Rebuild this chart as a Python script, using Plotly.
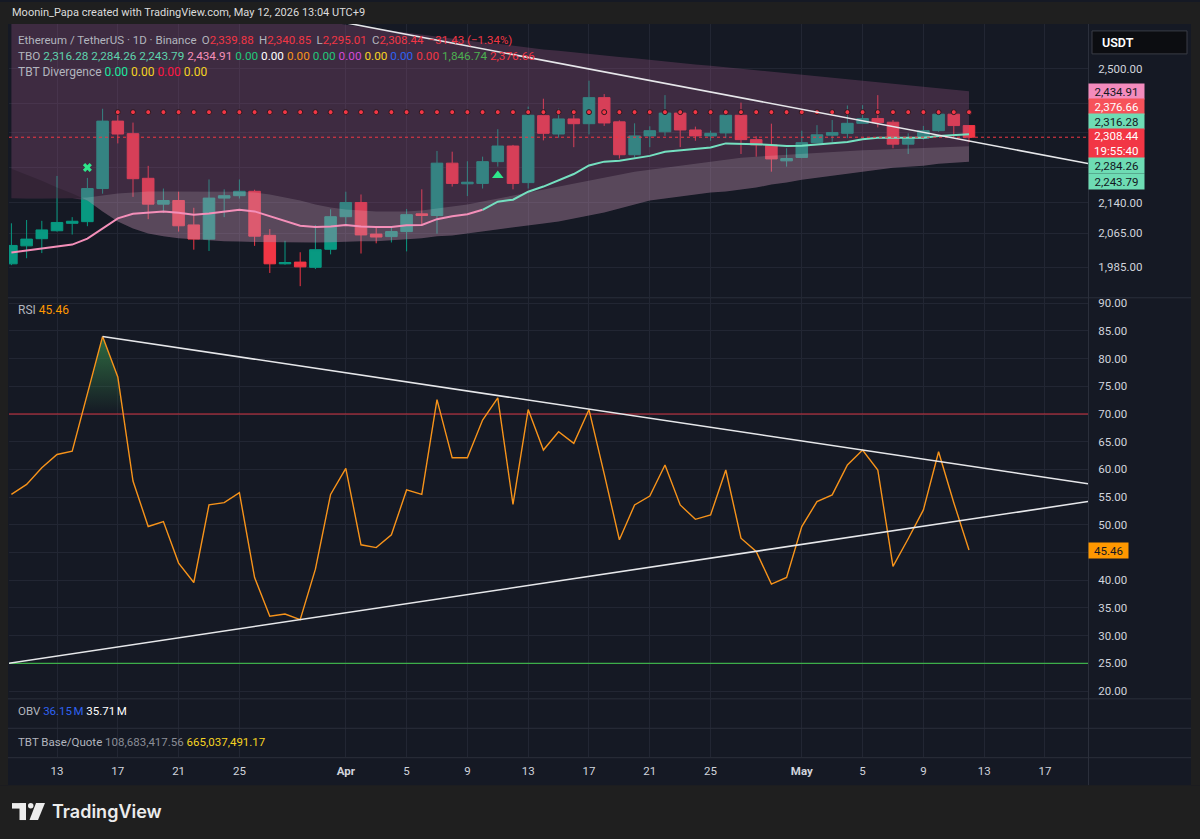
import numpy as np
import pandas as pd
import plotly.graph_objects as go

W, H = 1200, 839
def PX(v): return v / W
def PY(v): return 1 - v / H

# ---------------- data ----------------
dates = pd.date_range("2026-03-10", periods=64, freq="D")

open_ = [1993, 2035, 2052, 2071, 2089, 2093, 2175, 2352, 2318, 2201,
         2136, 2145, 2085, 2051, 2151, 2157, 2168, 2060, 1993, 1997,
         1985, 2027, 2105, 2140, 2063, 2057, 2069, 2112, 2108, 2240,
         2187, 2188, 2244, 2285, 2190, 2367, 2317, 2358, 2345, 2417,
         2350, 2262, 2312, 2323, 2374, 2328, 2312, 2320, 2368, 2302,
         2288, 2246, 2255, 2294, 2314, 2319, 2346, 2359, 2349, 2290,
         2306, 2326, 2371, 2339.88]
high = [2089, 2097, 2095, 2207, 2104, 2202, 2386, 2373, 2348, 2233,
        2175, 2167, 2127, 2198, 2173, 2198, 2172, 2075, 2047, 2020,
        2085, 2123, 2167, 2160, 2080, 2082, 2124, 2173, 2272, 2270,
        2245, 2257, 2330, 2288, 2392, 2414, 2386, 2383, 2465, 2427,
        2354, 2346, 2338, 2424, 2381, 2337, 2326, 2384, 2403, 2311,
        2345, 2279, 2326, 2341, 2355, 2395, 2396, 2424, 2355, 2319,
        2339, 2384, 2384, 2340.85]
low = [1990, 2006, 2018, 2069, 2062, 2082, 2162, 2292, 2154, 2099,
       2114, 2069, 2026, 2023, 2104, 2150, 2035, 1972, 1991, 1942,
       1981, 2015, 2084, 2017, 2041, 2043, 2022, 2085, 2064, 2180,
       2156, 2175, 2231, 2173, 2175, 2300, 2307, 2282, 2316, 2339,
       2252, 2255, 2282, 2312, 2282, 2299, 2299, 2306, 2264, 2257,
       2218, 2231, 2253, 2293, 2296, 2306, 2346, 2335, 2279, 2264,
       2302, 2323, 2308, 2295.01]
close = [2036, 2051, 2073, 2091, 2094, 2175, 2352, 2317, 2200, 2136,
         2145, 2083, 2051, 2151, 2157, 2168, 2058, 1993, 1996, 1986,
         2026, 2105, 2140, 2061, 2056, 2069, 2110, 2108, 2240, 2188,
         2191, 2244, 2285, 2188, 2368, 2319, 2358, 2345, 2417, 2347,
         2262, 2312, 2326, 2374, 2328, 2312, 2319, 2368, 2302, 2288,
         2251, 2252, 2294, 2315, 2321, 2346, 2359, 2348, 2290, 2306,
         2326, 2371, 2339.87, 2308.44]

tbo_fast = [2019.5, 2024, 2028, 2033, 2038, 2052, 2077, 2101, 2112, 2115,
            2118, 2115, 2110, 2113, 2118, 2122, 2118, 2106, 2093, 2083,
            2080, 2081, 2085, 2081, 2080, 2080, 2084, 2085, 2099, 2106,
            2111, 2122, 2142, 2147, 2167, 2180, 2195, 2212, 2234, 2244,
            2246, 2252, 2259, 2270, 2274, 2277, 2281, 2292, 2292, 2290,
            2288, 2285, 2286, 2289, 2292, 2296, 2303, 2307, 2307, 2307,
            2307, 2312, 2314, 2316.28]
fast_switch_idx = 31  # pink before, teal after

tbo_band_hi = [2150.6, 2150.2, 2149.9, 2149.7, 2150.4, 2152.4, 2157.4, 2162.4, 2164.9, 2167.4,
               2167.6, 2167.8, 2167.5, 2167.3, 2167.4, 2167.1, 2164.9, 2159.9, 2152.4, 2145.0,
               2135.1, 2127.7, 2122.8, 2120.3, 2117.9, 2117.6, 2117.9, 2120.3, 2125.2, 2130.1,
               2135.1, 2142.5, 2149.9, 2157.4, 2164.9, 2172.4, 2180.0, 2187.5, 2195.1, 2202.7,
               2210.3, 2218.0, 2223.2, 2228.3, 2233.4, 2238.6, 2243.8, 2249.2, 2254.4, 2257.0,
               2259.6, 2262.2, 2264.8, 2267.4, 2270.0, 2272.7, 2274.0, 2275.3, 2276.6, 2278.0,
               2279.3, 2280.6, 2282.4, 2284.26]
tbo_band_lo = [2225.7, 2210.3, 2195.0, 2177.4, 2162.4, 2145.0, 2117.9, 2093.5, 2076.7, 2064.7,
               2057.6, 2052.8, 2050.5, 2048.1, 2045.7, 2045.2, 2044.1, 2043.6, 2043.2, 2043.0,
               2043.1, 2043.5, 2044.2, 2045.7, 2045.9, 2048.1, 2050.5, 2052.8, 2057.6, 2059.9,
               2064.7, 2069.5, 2074.3, 2079.1, 2083.9, 2088.7, 2093.5, 2100.8, 2108.1, 2115.4,
               2125.2, 2135.1, 2145.0, 2149.9, 2154.9, 2159.9, 2164.9, 2167.4, 2172.4, 2177.4,
               2185.0, 2190.0, 2197.6, 2202.7, 2207.8, 2212.9, 2218.0, 2223.2, 2228.3, 2230.9,
               2233.4, 2238.6, 2241.2, 2243.79]
tbo_upper = [2780, 2775, 2770, 2764, 2758, 2752, 2746, 2739, 2732, 2725,
             2718, 2711, 2704, 2697, 2690, 2683, 2676, 2670, 2664, 2657,
             2650, 2639, 2630, 2624, 2618, 2612, 2606, 2599, 2593, 2587,
             2581, 2577, 2573, 2567, 2561, 2556, 2552, 2547, 2543, 2539,
             2534, 2530, 2525, 2521, 2517, 2512, 2508, 2503.5, 2499, 2494.8,
             2490.5, 2486.1, 2481.8, 2477.5, 2473.2, 2469, 2464.7, 2460.4, 2456.1, 2451.8,
             2447.6, 2443.4, 2439.1, 2434.91]
tbo_level = 2376.66
tbo_level_start = 7

signal_x_idx, signal_x_price = [5], [2229]
signal_up_idx, signal_up_price = [32], [2208]

price_trend_idx = [41.36, 64.38]
price_trend_price = [2471, 2288]

rsi = [55.5, 57.3, 60.3, 62.7, 63.3, 73.6, 84.0, 76.7, 57.9, 49.7,
       50.6, 43.1, 39.6, 53.6, 54.0, 55.8, 40.5, 33.5, 33.9, 32.9,
       42.0, 55.5, 60.2, 46.4, 45.9, 48.2, 56.3, 55.5, 72.6, 62.1,
       62.1, 68.9, 72.9, 53.7, 70.8, 63.5, 66.8, 64.7, 70.8, 59.2,
       47.3, 53.6, 55.2, 60.8, 53.6, 51.0, 51.8, 59.9, 47.6, 45.2,
       39.3, 40.5, 49.7, 54.2, 55.4, 60.8, 63.5, 59.9, 42.5, 47.5,
       52.7, 63.2, 54.0, 45.46]
rsi_upper_level, rsi_lower_level = 70, 25
rsi_trend_upper = [(6, 84.0), (56, 63.5)]
rsi_trend_lower = [(-0.22, 25.0), (19, 32.9)]
rsi_ticks = [20, 25, 30, 35, 40, 45, 50, 55, 60, 65, 70, 75, 80, 85, 90]
rsi_tick_hidden = [45]  # covered by the live value label

price_ticks = [1985, 2065, 2140, 2230, 2320, 2400, 2500]
price_tick_shown = [True, True, True, False, False, False, True]

tick_dates = pd.to_datetime(["2026-03-13", "2026-03-17", "2026-03-21", "2026-03-25", "2026-04-01",
                             "2026-04-05", "2026-04-09", "2026-04-13", "2026-04-17", "2026-04-21",
                             "2026-04-25", "2026-05-01", "2026-05-05", "2026-05-09", "2026-05-13",
                             "2026-05-17"])
tick_labels = ["13", "17", "21", "25", "<b>Apr</b>", "5", "9", "13", "17", "21", "25",
               "<b>May</b>", "5", "9", "13", "17"]

tbo_extra = [0.00, 0.00, 0.00, 0.00, 0.00, 0.00, 0.00, 0.00, 1846.74]
tbo_extra_colors = ["#22c77a", "#ffffff", "#f7931a", "#22c77a", "#d24ad8", "#f5d322", "#2f62f0", "#f23645", "#4caf50"]
div_vals = [0.00, 0.00, 0.00, 0.00]
div_colors = ["#1de9a0", "#f5d322", "#ff1744", "#f5d322"]
obv_vals = [36.15e6, 35.71e6]
tbt_vals = [108683417.56, 665037491.17]

# ---------------- styling ----------------
BG = "#151924"
OUT = "#1f1f1f"
GRID = "#222633"
SEP = "#2b2f3b"
TXT = "#d1d4dc"
MUTED = "#b2b5be"
UP = "#089981"
DN = "#f23645"
PINK = "#f48fb9"
TEAL = "#74e0c0"
ORANGE = "#ff9800"
FONT = "Roboto"
LEG_SZ = 12

idx = np.array((dates - dates[0]).days, dtype=float)
tick_pos = list((tick_dates - dates[0]).days)
x_range = [-0.158, 70.83]

# ---------------- helpers ----------------
def split_band(x, top, bot, logspace):
    x = np.asarray(x, float)
    if logspace:
        t = np.log(np.asarray(top, float)); b = np.log(np.asarray(bot, float))
    else:
        t = np.asarray(top, float); b = np.asarray(bot, float)
    d = t - b
    segs = []
    cx, ct, cb = [x[0]], [t[0]], [b[0]]
    sign = d[0] >= 0
    for i in range(1, len(x)):
        s = d[i] >= 0
        if s != sign:
            r = d[i - 1] / (d[i - 1] - d[i])
            xc = x[i - 1] + r * (x[i] - x[i - 1])
            tc = t[i - 1] + r * (t[i] - t[i - 1])
            cx.append(xc); ct.append(tc); cb.append(tc)
            segs.append((sign, cx, ct, cb))
            cx, ct, cb = [xc], [tc], [tc]
            sign = s
        cx.append(x[i]); ct.append(t[i]); cb.append(b[i])
    segs.append((sign, cx, ct, cb))
    out = []
    for sg, xs, ts, bs in segs:
        if logspace:
            ts = list(np.exp(ts)); bs = list(np.exp(bs))
        out.append((sg, list(xs), list(ts), list(bs)))
    return out

def polygon(xs, ts, bs):
    return xs + xs[::-1], ts + bs[::-1]

def extend_line(p0, p1, x0, x1, logspace):
    (a, va), (b, vb) = p0, p1
    if logspace:
        va, vb = np.log(va), np.log(vb)
    k = (vb - va) / (b - a)
    ys = [va + k * (x0 - a), va + k * (x1 - a)]
    if logspace:
        ys = list(np.exp(ys))
    return [x0, x1], ys

fig = go.Figure()

# ---- price pane: TBO cloud ----
env_low = list(np.minimum(tbo_band_hi, tbo_band_lo))
px_, py_ = polygon(list(idx), list(tbo_upper), env_low)
fig.add_trace(go.Scatter(x=px_, y=py_, fill="toself", fillcolor="rgba(156,84,132,0.31)",
                         line=dict(width=0), mode="lines", hoverinfo="skip", xaxis="x", yaxis="y"))
for sg, xs, ts, bs in split_band(idx, tbo_band_hi, tbo_band_lo, True):
    if len(xs) < 2:
        continue
    pxs, pys = polygon(xs, ts, bs)
    col = "rgba(255,255,255,0.14)" if sg else "rgba(0,0,0,0.16)"
    fig.add_trace(go.Scatter(x=pxs, y=pys, fill="toself", fillcolor=col, line=dict(width=0),
                             mode="lines", hoverinfo="skip", xaxis="x", yaxis="y"))

# red level dots
fig.add_trace(go.Scatter(x=idx[tbo_level_start:], y=[tbo_level] * len(idx[tbo_level_start:]),
                         mode="markers", marker=dict(size=5, color=DN, line=dict(width=1, color="#2a1a22")),
                         hoverinfo="skip", xaxis="x", yaxis="y"))

# fast line
fig.add_trace(go.Scatter(x=idx[:fast_switch_idx + 1], y=tbo_fast[:fast_switch_idx + 1], mode="lines",
                         line=dict(color=PINK, width=2), hoverinfo="skip", xaxis="x", yaxis="y"))
fig.add_trace(go.Scatter(x=idx[fast_switch_idx:], y=tbo_fast[fast_switch_idx:], mode="lines",
                         line=dict(color=TEAL, width=2), hoverinfo="skip", xaxis="x", yaxis="y"))

# candles
fig.add_trace(go.Candlestick(x=idx, open=open_, high=high, low=low, close=close,
                             increasing=dict(line=dict(color=UP, width=1), fillcolor=UP),
                             decreasing=dict(line=dict(color=DN, width=1), fillcolor=DN),
                             whiskerwidth=0, hoverinfo="skip", xaxis="x", yaxis="y"))

# current price dotted line
fig.add_trace(go.Scatter(x=x_range, y=[close[-1], close[-1]], mode="lines",
                         line=dict(color=DN, width=1, dash="dot"), hoverinfo="skip", xaxis="x", yaxis="y"))

# signals
fig.add_trace(go.Scatter(x=signal_x_idx, y=signal_x_price, mode="markers",
                         marker=dict(symbol="x", size=8, color="#2ee68a", line=dict(width=0)),
                         hoverinfo="skip", xaxis="x", yaxis="y"))
fig.add_trace(go.Scatter(x=signal_up_idx, y=signal_up_price, mode="markers",
                         marker=dict(symbol="triangle-up", size=10, color="#2ee68a"),
                         hoverinfo="skip", xaxis="x", yaxis="y"))

# price trendline
tx, ty = extend_line((price_trend_idx[0], price_trend_price[0]), (price_trend_idx[1], price_trend_price[1]),
                     20, x_range[1], True)
fig.add_trace(go.Scatter(x=tx, y=ty, mode="lines", line=dict(color="#e6e7ea", width=1.6),
                         hoverinfo="skip", xaxis="x", yaxis="y"))

# ---- RSI pane ----
for sg, xs, ts, bs in split_band(idx, rsi, [rsi_upper_level] * len(rsi), False):
    if sg and len(xs) > 2:
        pxs, pys = polygon(xs, ts, bs)
        fig.add_trace(go.Scatter(x=pxs, y=pys, fill="toself", line=dict(width=0), mode="lines",
                                 fillgradient=dict(type="vertical", start=70, stop=86,
                                                   colorscale=[[0, "rgba(60,150,80,0.0)"],
                                                               [1, "rgba(60,150,80,0.75)"]]),
                                 hoverinfo="skip", xaxis="x2", yaxis="y2"))
fig.add_trace(go.Scatter(x=x_range, y=[rsi_upper_level] * 2, mode="lines",
                         line=dict(color="rgba(242,54,69,0.85)", width=1), hoverinfo="skip",
                         xaxis="x2", yaxis="y2"))
fig.add_trace(go.Scatter(x=x_range, y=[rsi_lower_level] * 2, mode="lines",
                         line=dict(color="#3dae4a", width=1.4), hoverinfo="skip",
                         xaxis="x2", yaxis="y2"))
fig.add_trace(go.Scatter(x=idx, y=rsi, mode="lines", line=dict(color="#f7931a", width=1.4),
                         hoverinfo="skip", xaxis="x2", yaxis="y2"))
for anchors in (rsi_trend_upper, rsi_trend_lower):
    lx, ly = extend_line(anchors[0], anchors[1], anchors[0][0], x_range[1], False)
    fig.add_trace(go.Scatter(x=lx, y=ly, mode="lines", line=dict(color="#e6e7ea", width=1.6),
                             hoverinfo="skip", xaxis="x2", yaxis="y2"))

# invisible anchor trace for the bottom (OBV / TBT / time-scale) subplot
fig.add_trace(go.Scatter(x=[idx[0]], y=[0.5], mode="markers", marker=dict(opacity=0),
                         hoverinfo="skip", xaxis="x3", yaxis="y3"))

# ---------------- layout ----------------
xdom = [PX(9), PX(1088)]
price_dom = [PY(296), PY(22)]
rsi_dom = [PY(698), PY(297)]
bot_dom = [PY(757), PY(699)]

top_px, bot_px = 22, 296
# log range from the reference pixel scale (2500 at y=66.7, 863.7 px per ln unit)
p_top = 2500 * np.exp((66.7 - top_px) / 863.7)
p_bot = 2500 * np.exp(-(bot_px - 66.7) / 863.7)

common_x = dict(domain=xdom, range=x_range, tickvals=tick_pos, showgrid=True, gridcolor=GRID,
                gridwidth=1, zeroline=False, showline=False, fixedrange=True)
tickfont = dict(family=FONT, size=11.5, color=TXT)

fig.update_layout(
    width=W, height=H, margin=dict(l=0, r=0, t=0, b=0),
    paper_bgcolor=BG, plot_bgcolor=BG, showlegend=False, dragmode=False,
    boxgap=0.24, boxgroupgap=0,
    font=dict(family=FONT, color=TXT),
    xaxis=dict(**common_x, anchor="y", showticklabels=False, rangeslider=dict(visible=False)),
    xaxis2=dict(**common_x, anchor="y2", showticklabels=False),
    xaxis3=dict(**common_x, anchor="y3", showticklabels=True, ticktext=tick_labels,
                ticks="outside", ticklen=3, tickcolor="rgba(0,0,0,0)", tickfont=tickfont),
    yaxis=dict(domain=price_dom, type="log", range=[np.log10(p_bot), np.log10(p_top)],
               side="right", anchor="x", tickvals=price_ticks,
               ticktext=[f"{v:,.2f}" if s else "" for v, s in zip(price_ticks, price_tick_shown)],
               ticks="outside", ticklen=7, tickcolor="rgba(0,0,0,0)", tickfont=tickfont,
               showgrid=True, gridcolor=GRID, zeroline=False, showline=False, fixedrange=True),
    yaxis2=dict(domain=rsi_dom, range=[18.70, 90.88], side="right", anchor="x2",
                tickvals=rsi_ticks,
                ticktext=["" if v in rsi_tick_hidden else f"{v:.2f}" for v in rsi_ticks],
                ticks="outside", ticklen=7, tickcolor="rgba(0,0,0,0)", tickfont=tickfont,
                showgrid=True, gridcolor=GRID, zeroline=False, showline=False, fixedrange=True),
    yaxis3=dict(domain=bot_dom, range=[0, 1], anchor="x3", showgrid=False, showticklabels=False,
                zeroline=False, showline=False, fixedrange=True),
)

shapes = []
def prect(x0, y0, x1, y1, color, layer="above", line=None):
    shapes.append(dict(type="rect", xref="paper", yref="paper", x0=PX(x0), x1=PX(x1), y0=PY(y1), y1=PY(y0),
                       fillcolor=color, line=line or dict(width=0), layer=layer))
def pline(x0, y0, x1, y1, color, width=1):
    shapes.append(dict(type="line", xref="paper", yref="paper", x0=PX(x0), x1=PX(x1), y0=PY(y0), y1=PY(y1),
                       line=dict(color=color, width=width), layer="above"))

# outer frame
prect(0, 0, 1200, 22, OUT)
prect(0, 785, 1200, 839, OUT)
prect(0, 22, 8, 785, OUT)
prect(1191, 22, 1200, 785, OUT)
# pane separators
for yy in (296.5, 698.5, 728, 757.5):
    pline(8, yy, 1191, yy, SEP)
pline(1088.5, 22, 1088.5, 785, SEP)
# USDT box
prect(1092, 29, 1187, 52, "#0c0d11", line=dict(color="#3a3d46", width=1))
# TradingView logo glyph
prect(12, 803, 26, 808.5, "#ececec")
prect(19.5, 803, 26, 820, "#ececec")
shapes.append(dict(type="circle", xref="paper", yref="paper", x0=PX(28), x1=PX(33.5), y0=PY(808.5), y1=PY(803),
                   fillcolor="#ececec", line=dict(width=0)))
shapes.append(dict(type="path", xref="paper", yref="paper",
                   path=f"M {PX(36)} {PY(803)} L {PX(45)} {PY(803)} L {PX(38)} {PY(820)} L {PX(29.5)} {PY(820)} Z",
                   fillcolor="#ececec", line=dict(width=0)))
fig.update_layout(shapes=shapes)

ann = []
def text(x, y, s, size=12, color=TXT, anchor="left", weight=None, family=FONT):
    f = dict(family=family, size=size, color=color)
    if weight:
        f["weight"] = weight
    ann.append(dict(xref="paper", yref="paper", x=PX(x), y=PY(y), text=s, showarrow=False,
                    xanchor=anchor, yanchor="middle", align="left", font=f))

def c(col, s, size=None):
    st = f"color:{col}" + (f";font-size:{size}px" if size else "")
    return f'<span style="{st}">{s}</span>'

SP = "\u00a0"
NS = "\u202f"
G = SP + "\u2009"
chg = close[-1] - close[-2]
pct = chg / close[-2] * 100
text(10, 11, "Moonin_Papa created with TradingView.com, May 12, 2026 13:04 UTC+9", 11, "#dcdcdc")
line1 = (c(MUTED, "Ethereum / TetherUS · 1D · Binance") + G +
         c(MUTED, "O") + c(DN, f"{open_[-1]:,.2f}") + G +
         c(MUTED, "H") + c(DN, f"{high[-1]:,.2f}") + G +
         c(MUTED, "L") + c(DN, f"{low[-1]:,.2f}") + G +
         c(MUTED, "C") + c(DN, f"{close[-1]:,.2f}") + G +
         c(DN, f"{chg:+,.2f} ({pct:+.2f}%)".replace("-", "−")))
text(16, 38, line1, 11.5, MUTED)
vals2 = [(tbo_fast[-1], "#5fd3ad"), (tbo_band_hi[-1], "#5fd3ad"), (tbo_band_lo[-1], "#5fd3ad"), (tbo_upper[-1], PINK)]
vals2 += list(zip(tbo_extra, tbo_extra_colors)) + [(tbo_level, DN)]
line2 = c(MUTED, "TBO") + "".join(SP + c(col, f"{v:,.2f}") for v, col in vals2)
text(16, 54, line2, 11.75, MUTED)
line3 = c(MUTED, "TBT Divergence") + "".join(SP + c(col, f"{v:.2f}") for v, col in zip(div_vals, div_colors))
text(16, 70, line3, LEG_SZ, MUTED)
text(16, 309, c(MUTED, "RSI") + SP + c(ORANGE, f"{rsi[-1]:.2f}"), LEG_SZ, MUTED)
text(16, 711, c(MUTED, "OBV") + SP + c("#2f62f0", f"{obv_vals[0]/1e6:.2f}{NS}M") + SP +
     c("#ffffff", f"{obv_vals[1]/1e6:.2f}{NS}M"), 11.5, MUTED)
text(16, 742, c(MUTED, "TBT Base/Quote") + SP + c("#8a8d96", f"{tbt_vals[0]:,.2f}") + SP +
     c("#f5d322", f"{tbt_vals[1]:,.2f}"), 11.5, MUTED)
text(1100, 40.5, "USDT", 12.5, "#ffffff", weight=600)
text(50, 811, "TradingView", 18, "#ececec", weight=600, family="Inter")

# price-scale labels
def box(yref, yval, label, bg, fg, shift, width=53, height=13):
    ann.append(dict(xref="paper", yref=yref, x=PX(1088), y=yval, yshift=shift, text=label, showarrow=False,
                    xanchor="left", yanchor="middle", align="center", bgcolor=bg, borderpad=1,
                    width=width, height=height, font=dict(family=FONT, size=11.5, color=fg)))

box("y", np.log10(tbo_upper[-1]), f"{tbo_upper[-1]:,.2f}", "#f38bbd", "#131722", 0)
box("y", np.log10(tbo_level), f"{tbo_level:,.2f}", "#f6525a", "#ffffff", 6)
box("y", np.log10(tbo_fast[-1]), f"{tbo_fast[-1]:,.2f}", "#6edcb4", "#131722", 13)
box("y", np.log10(close[-1]), f"{close[-1]:,.2f}<br>19:55:40", DN, "#ffffff", -6.5, height=27)
box("y", np.log10(tbo_band_hi[-1]), f"{tbo_band_hi[-1]:,.2f}", "#6edcb4", "#131722", -19.5)
box("y", np.log10(tbo_band_lo[-1]), f"{tbo_band_lo[-1]:,.2f}", "#6edcb4", "#131722", -19.6)
box("y2", rsi[-1], f"{rsi[-1]:.2f}", ORANGE, "#131722", 0, width=37)

fig.update_layout(annotations=ann)
fig.write_html("out.html")
